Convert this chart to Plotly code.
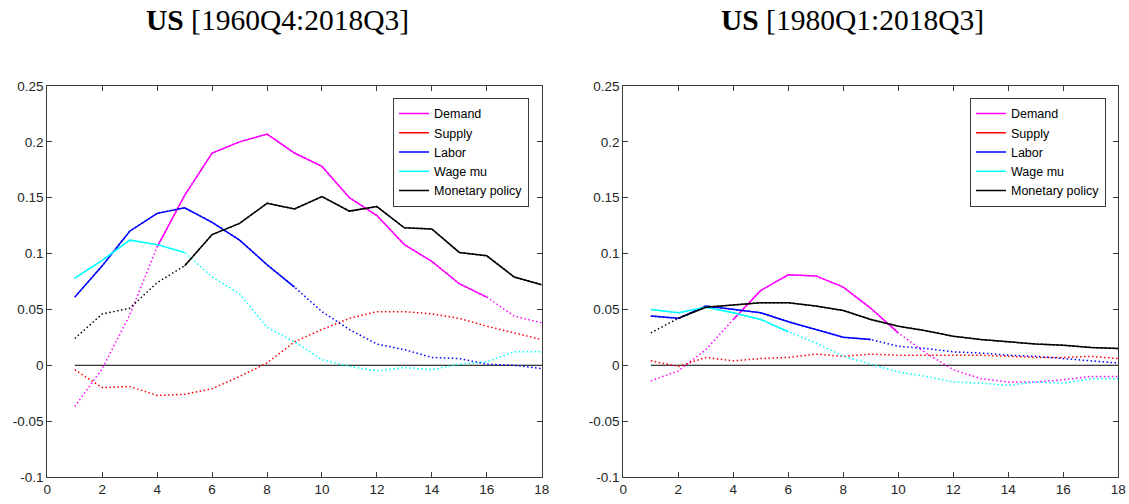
# %%
# import packages
import plotly.graph_objects as go

# %%
# impulse responses, horizons 1..18
horizon = list(range(1, 19))

names = ["Demand", "Supply", "Labor", "Wage mu", "Monetary policy"]
colors = ["#FF00FF", "#FF0000", "#0000FF", "#00FFFF", "#000000"]

titles = ["<b>US</b> [1960Q4:2018Q3]", "<b>US</b> [1980Q1:2018Q3]"]

# sample 1960Q4:2018Q3
demand_60 = [-0.037, -0.003, 0.045, 0.106, 0.152, 0.190, 0.200, 0.207, 0.190,
             0.178, 0.150, 0.134, 0.108, 0.093, 0.073, 0.061, 0.044, 0.038]
supply_60 = [-0.004, -0.020, -0.019, -0.027, -0.026, -0.021, -0.010, 0.002, 0.021,
             0.032, 0.042, 0.048, 0.048, 0.046, 0.042, 0.035, 0.029, 0.023]
labor_60 = [0.061, 0.089, 0.120, 0.136, 0.141, 0.128, 0.112, 0.090, 0.070,
            0.048, 0.032, 0.019, 0.014, 0.007, 0.006, 0.001, 0.000, -0.003]
wage_60 = [0.078, 0.094, 0.112, 0.108, 0.101, 0.079, 0.064, 0.034, 0.021,
           0.005, -0.001, -0.005, -0.002, -0.004, 0.001, 0.003, 0.012, 0.012]
monpol_60 = [0.024, 0.046, 0.051, 0.074, 0.089, 0.117, 0.127, 0.145, 0.140,
             0.151, 0.138, 0.142, 0.123, 0.122, 0.101, 0.098, 0.079, 0.072]

# sample 1980Q1:2018Q3
demand_80 = [-0.014, -0.005, 0.014, 0.041, 0.067, 0.081, 0.080, 0.070, 0.051,
             0.029, 0.011, -0.004, -0.012, -0.015, -0.015, -0.013, -0.010, -0.010]
supply_80 = [0.004, -0.001, 0.007, 0.004, 0.006, 0.007, 0.010, 0.008, 0.010,
             0.009, 0.009, 0.009, 0.009, 0.008, 0.007, 0.007, 0.008, 0.006]
labor_80 = [0.044, 0.042, 0.053, 0.050, 0.047, 0.039, 0.032, 0.025, 0.023,
            0.017, 0.015, 0.012, 0.011, 0.009, 0.008, 0.006, 0.004, 0.002]
wage_80 = [0.050, 0.047, 0.052, 0.047, 0.041, 0.030, 0.020, 0.008, 0.001,
           -0.006, -0.010, -0.015, -0.016, -0.018, -0.015, -0.016, -0.012, -0.012]
monpol_80 = [0.029, 0.042, 0.052, 0.054, 0.056, 0.056, 0.053, 0.049, 0.041,
             0.035, 0.031, 0.026, 0.023, 0.021, 0.019, 0.018, 0.016, 0.015]

# horizons where each response is drawn solid (first, last); None = dotted all along
solid_60 = [(4, 16), None, (1, 9), (1, 5), (5, 18)]
solid_80 = [(4, 10), None, (1, 9), (1, 6), (2, 18)]

panels = [
    ([demand_60, supply_60, labor_60, wage_60, monpol_60], solid_60),
    ([demand_80, supply_80, labor_80, wage_80, monpol_80], solid_80),
]

x_ticks = [0, 2, 4, 6, 8, 10, 12, 14, 16, 18]
y_ticks = [-0.1, -0.05, 0, 0.05, 0.1, 0.15, 0.2, 0.25]
y_labels = ["-0.1", "-0.05", "0", "0.05", "0.1", "0.15", "0.2", "0.25"]

# %%
# build traces
fig = go.Figure()

for p, (series, spans) in enumerate(panels):
    xa = "x" if p == 0 else "x2"
    ya = "y" if p == 0 else "y2"
    lg = "legend" if p == 0 else "legend2"

    # zero line
    fig.add_trace(go.Scatter(
        x=[horizon[0], horizon[-1]], y=[0, 0], mode="lines",
        line=dict(color="black", width=1), xaxis=xa, yaxis=ya,
        showlegend=False, hoverinfo="skip",
    ))

    for name, color, vals, span in zip(names, colors, series, spans):
        fig.add_trace(go.Scatter(
            x=horizon, y=vals, mode="lines",
            line=dict(color=color, width=1.5, dash="1.5px,2.5px"),
            xaxis=xa, yaxis=ya, showlegend=False,
        ))
        if span is not None:
            solid = [v if span[0] <= h <= span[1] else None for h, v in zip(horizon, vals)]
            fig.add_trace(go.Scatter(
                x=horizon, y=solid, mode="lines", connectgaps=False,
                line=dict(color=color, width=1.5),
                xaxis=xa, yaxis=ya, showlegend=False,
            ))

    # legend entries (solid samples)
    for name, color in zip(names, colors):
        fig.add_trace(go.Scatter(
            x=[None], y=[None], mode="lines", name=name,
            line=dict(color=color, width=1.5),
            xaxis=xa, yaxis=ya, legend=lg,
        ))

# %%
# layout
axis_col = "#3a3a3a"
tick_font = dict(family="Liberation Sans", size=13.5, color="#262626")

xaxis_common = dict(
    range=[0, 18], tickvals=x_ticks, ticks="inside", ticklen=5, tickcolor=axis_col,
    showline=True, linecolor=axis_col, linewidth=1, mirror="ticks",
    showgrid=False, zeroline=False, tickfont=tick_font, fixedrange=True,
    automargin=False,
)
yaxis_common = dict(
    range=[-0.1, 0.25], tickvals=y_ticks, ticktext=y_labels, ticks="inside",
    ticklen=5, tickcolor=axis_col, showline=True, linecolor=axis_col, linewidth=1,
    mirror="ticks", showgrid=False, zeroline=False, tickfont=tick_font,
    fixedrange=True, domain=[0.0536, 0.8294], automargin=False,
)

legend_common = dict(
    bgcolor="white", bordercolor=axis_col, borderwidth=1,
    font=dict(family="Liberation Sans", size=12.5, color="black"),
    xanchor="right", yanchor="top", y=0.806, tracegroupgap=0,
    itemclick=False, itemdoubleclick=False,
)

fig.update_layout(
    width=1129, height=504,
    margin=dict(l=0, r=0, t=0, b=0, autoexpand=False),
    paper_bgcolor="white", plot_bgcolor="white",
    xaxis=dict(xaxis_common, domain=[0.0419, 0.4798], anchor="y"),
    yaxis=dict(yaxis_common, anchor="x"),
    xaxis2=dict(xaxis_common, domain=[0.5521, 0.9905], anchor="y2"),
    yaxis2=dict(yaxis_common, anchor="x2"),
    legend=dict(legend_common, x=0.4686),
    legend2=dict(legend_common, x=0.9796),
    annotations=[
        dict(text=titles[0], x=0.2462, y=0.960, xref="paper", yref="paper",
             xanchor="center", yanchor="middle", showarrow=False,
             font=dict(family="Liberation Serif", size=29.5, color="black")),
        dict(text=titles[1], x=0.7555, y=0.960, xref="paper", yref="paper",
             xanchor="center", yanchor="middle", showarrow=False,
             font=dict(family="Liberation Serif", size=29.5, color="black")),
    ],
)

# %%
# write html (no page margin round the figure, no modebar)
fig.write_html(
    "out.html",
    config={"displayModeBar": False},
    post_script="document.body.style.margin = '0px';",
)
